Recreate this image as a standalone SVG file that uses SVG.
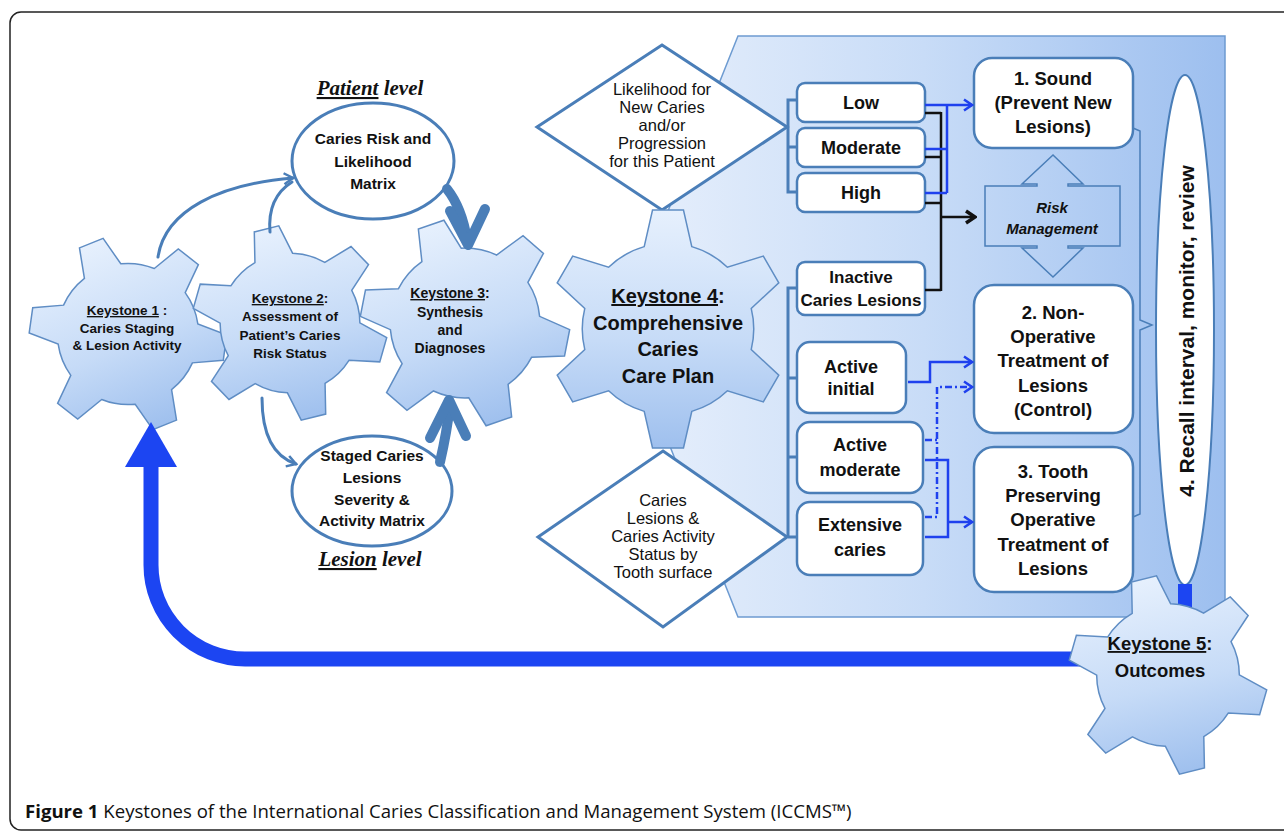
<svg xmlns="http://www.w3.org/2000/svg" width="1284" height="832" viewBox="0 0 1284 832">
<style>
.t{font-family:"Liberation Sans",Arial,sans-serif;fill:#111;text-anchor:middle}
.b{font-weight:bold}
.box{fill:#fff;stroke:#4a7eb8;stroke-width:2.5}
.dia{fill:#fff;stroke:#4a7eb8;stroke-width:3}
.ell{fill:#fff;stroke:#4a7eb8;stroke-width:3}
.gear{fill:url(#gearGrad);stroke:#5f8dc4;stroke-width:1.5}
.thin{fill:none;stroke:#4a7eb8;stroke-width:3;stroke-linecap:round}
.thick{fill:none;stroke:#4a7eb8;stroke-width:10;stroke-linecap:round;stroke-linejoin:round}
.bl{fill:none;stroke:#1f41ee;stroke-width:2.5}
.bk{fill:none;stroke:#111;stroke-width:2.5}
.br{fill:none;stroke:#4a7eb8;stroke-width:3}
.ser{font-family:"Liberation Serif","Times New Roman",serif;font-weight:bold;font-style:italic;font-size:21px;fill:#111;text-anchor:middle}
</style>
<defs>
<linearGradient id="gearGrad" x1="0" y1="0" x2="0" y2="1">
<stop offset="0" stop-color="#e6f0fd"/>
<stop offset="0.55" stop-color="#c6dbf7"/>
<stop offset="1" stop-color="#9fc0ee"/>
</linearGradient>
<linearGradient id="panelGrad" gradientUnits="userSpaceOnUse" x1="622" y1="0" x2="1225" y2="0">
<stop offset="0" stop-color="#e8f0fc"/>
<stop offset="0.5" stop-color="#c8dcf7"/>
<stop offset="1" stop-color="#9dbfef"/>
</linearGradient>
<path id="gear" vector-effect="non-scaling-stroke" d="M-20,-69.2 L-13,-100 L13,-100 L20,-69.2 A72,72 0 0 1 49.93,-51.92 L80.1,-61.26 L93.1,-38.74 L69.93,-17.28 A72,72 0 0 1 69.93,17.28 L93.1,38.74 L80.1,61.26 L49.93,51.92 A72,72 0 0 1 20,69.2 L13,100 L-13,100 L-20,69.2 A72,72 0 0 1 -49.93,51.92 L-80.1,61.26 L-93.1,38.74 L-69.93,17.28 A72,72 0 0 1 -69.93,-17.28 L-93.1,-38.74 L-80.1,-61.26 L-49.93,-51.92 A72,72 0 0 1 -20,-69.2 Z"/>
<marker id="mThin" viewBox="0 0 14 14" refX="12" refY="7" markerWidth="14" markerHeight="14" markerUnits="userSpaceOnUse" orient="auto">
<path d="M3,1.5 L12,7 L3,12.5" fill="none" stroke="#4a7eb8" stroke-width="2.5"/>
</marker>
<marker id="mBlue" viewBox="0 0 14 14" refX="12" refY="7" markerWidth="14" markerHeight="14" markerUnits="userSpaceOnUse" orient="auto">
<path d="M4,1.5 L12,7 L4,12.5" fill="none" stroke="#1f41ee" stroke-width="2.5"/>
</marker>
<marker id="mBlack" viewBox="0 0 16 16" refX="14" refY="8" markerWidth="16" markerHeight="16" markerUnits="userSpaceOnUse" orient="auto">
<path d="M5,2 L14,8 L5,14" fill="none" stroke="#111" stroke-width="3.5"/>
</marker>
</defs>
<rect width="1284" height="832" fill="#fff"/>
<rect id="frame" x="10" y="12" width="1300" height="818" rx="11" fill="none" stroke="#222" stroke-width="1.5"/>

<g id="panel">
<polygon points="738,36 1225,36 1225,617 738,617 622,326" fill="url(#panelGrad)" stroke="#6d9bd1" stroke-width="1.5"/>
</g>

<g id="diamond-likelihood">
<polygon class="dia" points="662,45 787,127 662,210 537,127"/>
<text class="t" font-size="16.5"><tspan x="662" y="95">Likelihood for</tspan><tspan x="662" y="113">New Caries</tspan><tspan x="662" y="131">and/or</tspan><tspan x="662" y="149">Progression</tspan><tspan x="662" y="167">for this Patient</tspan></text>
</g>
<g id="diamond-lesions">
<polygon class="dia" points="663,451 787,537 663,627 538,537"/>
<text class="t" font-size="16.5"><tspan x="663" y="506">Caries</tspan><tspan x="663" y="524">Lesions &amp;</tspan><tspan x="663" y="542">Caries Activity</tspan><tspan x="663" y="560">Status by</tspan><tspan x="663" y="578">Tooth surface</tspan></text>
</g>

<g id="keystone1">
<use href="#gear" class="gear" transform="translate(128,334) rotate(-22) scale(0.98)"/>
<text class="t b" font-size="13.5"><tspan x="127" y="315"><tspan text-decoration="underline">Keystone 1</tspan> :</tspan><tspan x="127" y="333">Caries Staging</tspan><tspan x="127" y="350">&amp; Lesion Activity</tspan></text>
</g>
<g id="keystone2">
<use href="#gear" class="gear" transform="translate(290,323) rotate(-14) scale(0.97)"/>
<text class="t b" font-size="13.5"><tspan x="290" y="303"><tspan text-decoration="underline">Keystone 2</tspan>:</tspan><tspan x="290" y="321">Assessment of</tspan><tspan x="290" y="340">Patient’s Caries</tspan><tspan x="290" y="358">Risk Status</tspan></text>
</g>
<g id="keystone3">
<use href="#gear" class="gear" transform="translate(465,323) rotate(-19) scale(1.04)"/>
<text class="t b" font-size="14"><tspan x="450" y="298"><tspan text-decoration="underline">Keystone 3</tspan>:</tspan><tspan x="450" y="317">Synthesis</tspan><tspan x="450" y="335">and</tspan><tspan x="450" y="353">Diagnoses</tspan></text>
</g>
<g id="keystone4">
<use href="#gear" class="gear" transform="translate(668,329) scale(1.19)"/>
<text class="t b" font-size="20"><tspan x="668" y="303"><tspan text-decoration="underline">Keystone 4</tspan>:</tspan><tspan x="668" y="330">Comprehensive</tspan><tspan x="668" y="356">Caries</tspan><tspan x="668" y="383">Care Plan</tspan></text>
</g>

<g id="ellipse-risk">
<ellipse class="ell" cx="373" cy="161" rx="81" ry="58"/>
<text class="t b" font-size="15.5"><tspan x="373" y="144">Caries Risk and</tspan><tspan x="373" y="167">Likelihood</tspan><tspan x="373" y="189">Matrix</tspan></text>
</g>
<g id="ellipse-lesions">
<ellipse class="ell" cx="372" cy="491" rx="80" ry="55"/>
<text class="t b" font-size="15.5"><tspan x="372" y="461">Staged Caries</tspan><tspan x="372" y="483">Lesions</tspan><tspan x="372" y="505">Severity &amp;</tspan><tspan x="372" y="526">Activity Matrix</tspan></text>
</g>
<g id="label-patient"><text class="ser" x="370" y="95"><tspan text-decoration="underline">Patient</tspan> level</text></g>
<g id="label-lesion"><text class="ser" x="370" y="566"><tspan text-decoration="underline">Lesion</tspan> level</text></g>

<g id="box-low"><rect class="box" x="797" y="83" width="128" height="39" rx="8"/><text class="t b" font-size="18" x="861" y="109">Low</text></g>
<g id="box-moderate"><rect class="box" x="797" y="128" width="128" height="39" rx="8"/><text class="t b" font-size="18" x="861" y="154">Moderate</text></g>
<g id="box-high"><rect class="box" x="797" y="173" width="128" height="39" rx="8"/><text class="t b" font-size="18" x="861" y="199">High</text></g>
<g id="box-inactive"><rect class="box" x="797" y="262" width="128" height="53" rx="8"/><text class="t b" font-size="17"><tspan x="861" y="283">Inactive</tspan><tspan x="861" y="306">Caries Lesions</tspan></text></g>
<g id="box-active-initial"><rect class="box" x="797" y="342" width="109" height="71" rx="13"/><text class="t b" font-size="18"><tspan x="851" y="373">Active</tspan><tspan x="851" y="395">initial</tspan></text></g>
<g id="box-active-moderate"><rect class="box" x="797" y="422" width="126" height="71" rx="13"/><text class="t b" font-size="18"><tspan x="860" y="451">Active</tspan><tspan x="860" y="476">moderate</tspan></text></g>
<g id="box-extensive"><rect class="box" x="797" y="502" width="126" height="73" rx="13"/><text class="t b" font-size="18"><tspan x="860" y="531">Extensive</tspan><tspan x="860" y="556">caries</tspan></text></g>

<g id="out-sound"><rect class="box" x="974" y="58" width="159" height="90" rx="18"/><text class="t b" font-size="18.5"><tspan x="1053" y="85">1. Sound</tspan><tspan x="1053" y="109">(Prevent New</tspan><tspan x="1053" y="133">Lesions)</tspan></text></g>
<g id="risk-management"><path d="M985,186 H1037 V184 H1022 L1053,155 L1083,184 H1068 V186 H1120 V246 H1068 V248 H1083 L1053,277 L1022,248 H1037 V246 H985 Z" fill="none" stroke="#4a7eb8" stroke-width="1.5"/><text class="t b" font-size="15" font-style="italic"><tspan x="1052" y="213">Risk</tspan><tspan x="1052" y="234">Management</tspan></text></g>
<g id="out-nonop"><rect class="box" x="974" y="285" width="159" height="148" rx="20"/><text class="t b" font-size="18.5"><tspan x="1053" y="319">2. Non-</tspan><tspan x="1053" y="343">Operative</tspan><tspan x="1053" y="367">Treatment of</tspan><tspan x="1053" y="392">Lesions</tspan><tspan x="1053" y="416">(Control)</tspan></text></g>
<g id="out-op"><rect class="box" x="974" y="447" width="159" height="145" rx="20"/><text class="t b" font-size="18.5"><tspan x="1053" y="478">3. Tooth</tspan><tspan x="1053" y="502">Preserving</tspan><tspan x="1053" y="526">Operative</tspan><tspan x="1053" y="551">Treatment of</tspan><tspan x="1053" y="575">Lesions</tspan></text></g>
<g id="recall"><ellipse cx="1185" cy="330" rx="29" ry="255" fill="#fff" stroke="#4a7eb8" stroke-width="2"/><text class="t b" font-size="21" transform="translate(1194,331) rotate(-90)" x="0" y="0">4. Recall interval, monitor, review</text></g>

<g id="connectors">
<path class="thin" d="M158,257 C165,210 220,184 293,178" marker-end="url(#mThin)"/>
<path class="thin" d="M270,232 C268,208 276,192 292,182"/>
<path class="thin" d="M262,398 C262,432 272,456 296,464" marker-end="url(#mThin)"/>
<path class="thick" d="M447,189 Q462,208 467,240"/>
<path class="thick" d="M450,211 L468,245 L485,209"/>
<path class="thick" d="M440,462 Q447,432 450,404"/>
<path class="thick" d="M430,438 L449,400 L466,436"/>
<path class="br" d="M797,100 H788 V192 H797 M788,147 H797"/>
<path class="br" d="M797,288 H788 V537 M788,378 H797 M788,457 H797 M788,537 H797"/>
<path d="M1133,128 L1140,131 V320 L1152,325 L1140,330 V514 L1133,517" fill="none" stroke="#4a7eb8" stroke-width="1.5"/>
<path class="bk" d="M925,113 H941 M925,157 H941 M925,203 H941 M925,290 H941 M941,112 V291"/>
<path class="bk" d="M941,217 H975" stroke-width="3" marker-end="url(#mBlack)"/>
<path class="bl" d="M925,105 H972" marker-end="url(#mBlue)"/>
<path class="bl" d="M947,105 V193 M925,149 H947 M925,193 H947"/>
<path class="bl" d="M908,382 H930 V362 H972" marker-end="url(#mBlue)"/>
<path class="bl" d="M925,440 H937 M925,517 H937 V387 H972" stroke-dasharray="7,3,2,3" marker-end="url(#mBlue)"/>
<path class="bl" d="M925,460 H948 V537 H925"/>
<path class="bl" d="M948,522 H972" marker-end="url(#mBlue)"/>
<path d="M1090,659 H245 A94,94 0 0 1 151,565 V462" fill="none" stroke="#1c45f2" stroke-width="15"/>
<polygon points="125,467 177,467 151,422" fill="#1c45f2"/>
<path d="M1185,584 V615" fill="none" stroke="#1c45f2" stroke-width="14"/>
</g>

<g id="keystone5">
<use href="#gear" class="gear" transform="translate(1168,675) rotate(-14) scale(0.99)"/>
<text class="t b" font-size="18.5"><tspan x="1160" y="650"><tspan text-decoration="underline">Keystone 5</tspan>:</tspan><tspan x="1160" y="677">Outcomes</tspan></text>
</g>

<g id="caption"><text x="25" y="818" font-family="Open Sans, sans-serif" font-size="18.6" fill="#111"><tspan font-weight="bold">Figure 1</tspan> Keystones of the International Caries Classification and Management System (ICCMS™)</text></g>
</svg>
